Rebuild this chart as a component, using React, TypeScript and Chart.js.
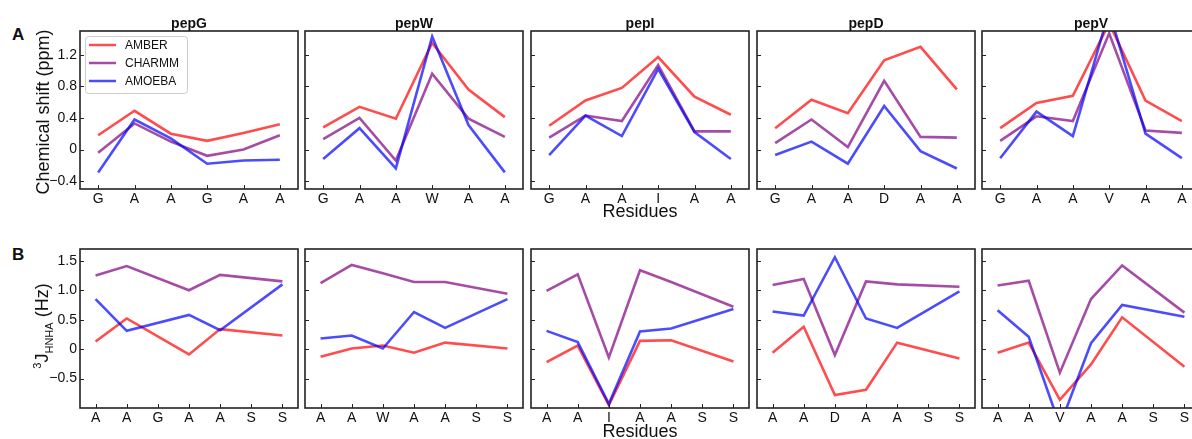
import React, { useEffect, useRef } from "react";
import { Chart, registerables } from "chart.js";

Chart.register(...registerables);

const FONT = "'Liberation Sans', Arial, Helvetica, sans-serif";
Chart.defaults.font.family = FONT;

// ---------- data ----------
const seriesNames = ["AMBER", "CHARMM", "AMOEBA"];
const seriesColors = ["rgba(255,0,0,0.7)", "rgba(128,0,128,0.7)", "rgba(0,0,255,0.7)"];
const peptides = ["pepG", "pepW", "pepI", "pepD", "pepV"];

// Panel A: chemical shift (ppm)
const csResiduesG = ["G", "A", "A", "G", "A", "A"];
const csResiduesW = ["G", "A", "A", "W", "A", "A"];
const csResiduesI = ["G", "A", "A", "I", "A", "A"];
const csResiduesD = ["G", "A", "A", "D", "A", "A"];
const csResiduesV = ["G", "A", "A", "V", "A", "A"];

const csAmberG = [0.18, 0.49, 0.2, 0.11, 0.21, 0.32];
const csCharmmG = [-0.04, 0.33, 0.1, -0.08, 0.0, 0.18];
const csAmoebaG = [-0.29, 0.38, 0.14, -0.18, -0.14, -0.13];

const csAmberW = [0.28, 0.54, 0.39, 1.35, 0.76, 0.41];
const csCharmmW = [0.13, 0.4, -0.14, 0.96, 0.39, 0.16];
const csAmoebaW = [-0.12, 0.27, -0.24, 1.43, 0.31, -0.29];

const csAmberI = [0.3, 0.62, 0.78, 1.17, 0.67, 0.44];
const csCharmmI = [0.15, 0.43, 0.36, 1.07, 0.23, 0.23];
const csAmoebaI = [-0.07, 0.43, 0.17, 1.02, 0.22, -0.12];

const csAmberD = [0.27, 0.63, 0.46, 1.13, 1.3, 0.76];
const csCharmmD = [0.08, 0.38, 0.03, 0.87, 0.16, 0.15];
const csAmoebaD = [-0.07, 0.1, -0.18, 0.55, -0.02, -0.24];

const csAmberV = [0.27, 0.59, 0.68, 1.6, 0.62, 0.36];
const csCharmmV = [0.11, 0.42, 0.36, 1.47, 0.24, 0.21];
const csAmoebaV = [-0.11, 0.48, 0.17, 1.75, 0.2, -0.11];

// Panel B: 3J HNHA (Hz)
const jResiduesG = ["A", "A", "G", "A", "A", "S", "S"];
const jResiduesW = ["A", "A", "W", "A", "A", "S", "S"];
const jResiduesI = ["A", "A", "I", "A", "A", "S", "S"];
const jResiduesD = ["A", "A", "D", "A", "A", "S", "S"];
const jResiduesV = ["A", "A", "V", "A", "A", "S", "S"];

const jAmberG = [0.13, 0.52, null, -0.09, 0.34, null, 0.23];
const jCharmmG = [1.25, 1.41, null, 1.0, 1.26, null, 1.15];
const jAmoebaG = [0.85, 0.31, null, 0.58, 0.32, null, 1.1];

const jAmberW = [-0.13, 0.01, 0.06, -0.06, 0.11, null, 0.01];
const jCharmmW = [1.12, 1.43, 1.29, 1.14, 1.14, null, 0.94];
const jAmoebaW = [0.18, 0.23, 0.01, 0.63, 0.36, null, 0.85];

const jAmberI = [-0.22, 0.06, -0.95, 0.14, 0.15, null, -0.21];
const jCharmmI = [0.99, 1.27, -0.14, 1.34, 1.14, null, 0.72];
const jAmoebaI = [0.31, 0.12, -0.93, 0.3, 0.35, null, 0.68];

const jAmberD = [-0.06, 0.38, -0.78, -0.69, 0.11, null, -0.16];
const jCharmmD = [1.09, 1.19, -0.1, 1.15, 1.1, null, 1.06];
const jAmoebaD = [0.64, 0.57, 1.56, 0.52, 0.36, null, 0.98];

const jAmberV = [-0.06, 0.11, -0.86, -0.26, 0.54, null, -0.3];
const jCharmmV = [1.08, 1.16, -0.4, 0.85, 1.42, null, 0.62];
const jAmoebaV = [0.66, 0.21, -1.3, 0.1, 0.75, null, 0.55];

const csTickValues = [-0.4, 0, 0.4, 0.8, 1.2];
const csTickLabels = ["\u22120.4", "0", "0.4", "0.8", "1.2"];
const jTickValues = [-0.5, 0, 0.5, 1.0, 1.5];
const jTickLabels = ["\u22120.5", "0", "0.5", "1.0", "1.5"];

const csMin = -0.5;
const csMax = 1.5;
const jMin = -1.0;
const jMax = 1.7;

const csRows = [
  { labels: csResiduesG, values: [csAmberG, csCharmmG, csAmoebaG] },
  { labels: csResiduesW, values: [csAmberW, csCharmmW, csAmoebaW] },
  { labels: csResiduesI, values: [csAmberI, csCharmmI, csAmoebaI] },
  { labels: csResiduesD, values: [csAmberD, csCharmmD, csAmoebaD] },
  { labels: csResiduesV, values: [csAmberV, csCharmmV, csAmoebaV] },
];
const jRows = [
  { labels: jResiduesG, values: [jAmberG, jCharmmG, jAmoebaG] },
  { labels: jResiduesW, values: [jAmberW, jCharmmW, jAmoebaW] },
  { labels: jResiduesI, values: [jAmberI, jCharmmI, jAmoebaI] },
  { labels: jResiduesD, values: [jAmberD, jCharmmD, jAmoebaD] },
  { labels: jResiduesV, values: [jAmberV, jCharmmV, jAmoebaV] },
];

// ---------- layout ----------
const PANEL_LEFTS = [80, 305, 531, 757, 982];
const PANEL_W = 218;
const ROW_A = { top: 31, h: 158 };
const ROW_B = { top: 249, h: 159 };
const AX_W = 45;
const AX_H = 30;
const PAD_T = 16;
const PAD_R = 3;

const framePlugin = {
  id: "frameTicks",
  afterDatasetsDraw(chart: any) {
    const { ctx, chartArea: a } = chart;
    const xs = chart.scales.x;
    const ys = chart.scales.y;
    ctx.save();
    ctx.strokeStyle = "#222";
    ctx.lineWidth = 1;
    ctx.beginPath();
    ys.ticks.forEach((t: any) => {
      const y = Math.round(ys.getPixelForValue(t.value)) + 0.5;
      ctx.moveTo(a.left, y);
      ctx.lineTo(a.left + 4, y);
    });
    xs.ticks.forEach((_t: any, i: number) => {
      const x = Math.round(xs.getPixelForValue(i)) + 0.5;
      ctx.moveTo(x, a.bottom);
      ctx.lineTo(x, a.bottom - 4);
    });
    ctx.stroke();
    ctx.lineWidth = 1.6;
    ctx.strokeStyle = "#222";
    ctx.strokeRect(a.left, a.top, a.right - a.left, a.bottom - a.top);
    ctx.restore();
  },
};

const legendPlugin = {
  id: "boxLegend",
  afterDraw(chart: any) {
    const { ctx, chartArea: a } = chart;
    const bx = a.left + 5;
    const by = a.top + 5;
    const bw = 102;
    const bh = 57;
    ctx.save();
    ctx.fillStyle = "rgba(255,255,255,0.85)";
    ctx.strokeStyle = "#cccccc";
    ctx.lineWidth = 1;
    ctx.beginPath();
    ctx.roundRect(bx + 0.5, by + 0.5, bw, bh, 3);
    ctx.fill();
    ctx.stroke();
    chart.data.datasets.forEach((ds: any, i: number) => {
      const y = by + 9 + i * 18;
      ctx.strokeStyle = ds.borderColor;
      ctx.lineWidth = 2.5;
      ctx.beginPath();
      ctx.moveTo(bx + 4, y);
      ctx.lineTo(bx + 31, y);
      ctx.stroke();
      ctx.fillStyle = "#111";
      ctx.font = `12px ${FONT}`;
      ctx.textBaseline = "middle";
      ctx.textAlign = "left";
      ctx.fillText(ds.label, bx + 40, y + 0.5);
    });
    ctx.restore();
  },
};

type PanelProps = {
  left: number;
  top: number;
  height: number;
  labels: string[];
  values: (number | null)[][];
  min: number;
  max: number;
  tickValues: number[];
  tickLabels: string[];
  showY: boolean;
  legend: boolean;
};

function Panel(p: PanelProps) {
  const ref = useRef<HTMLCanvasElement>(null);
  const W = AX_W + PANEL_W + PAD_R;
  const H = PAD_T + p.height + AX_H;
  useEffect(() => {
    if (!ref.current) return;
    const chart = new Chart(ref.current, {
      type: "line",
      data: {
        labels: p.labels,
        datasets: p.values.map((v, i) => ({
          label: seriesNames[i],
          data: v,
          borderColor: seriesColors[i],
          backgroundColor: seriesColors[i],
          borderWidth: 2.6,
          pointRadius: 0,
          pointHoverRadius: 0,
          fill: false,
          tension: 0,
          spanGaps: true,
          order: 3 - i,
        })),
      },
      options: {
        animation: false,
        responsive: false,
        events: [],
        layout: { padding: { left: 0, top: PAD_T, right: PAD_R, bottom: 0 } },
        plugins: {
          legend: { display: false },
          tooltip: { enabled: false },
          title: { display: false },
        },
        scales: {
          x: {
            type: "category",
            offset: true,
            grid: { display: false, drawTicks: false },
            border: { display: false },
            ticks: {
              font: { size: 14, family: FONT },
              color: "#111",
              padding: 2,
              maxRotation: 0,
              minRotation: 0,
              autoSkip: false,
            },
            afterFit: (s: any) => {
              s.height = AX_H;
            },
          },
          y: {
            type: "linear",
            min: p.min,
            max: p.max,
            grid: { display: false, drawTicks: false },
            border: { display: false },
            ticks: {
              display: p.showY,
              font: { size: 14, family: FONT },
              color: "#111",
              padding: 3,
              callback: (_v: any, idx: number) => p.tickLabels[idx],
            },
            afterBuildTicks: (s: any) => {
              s.ticks = p.tickValues.map((v) => ({ value: v }));
            },
            afterFit: (s: any) => {
              s.width = AX_W;
            },
          },
        },
      } as any,
      plugins: p.legend ? [framePlugin, legendPlugin] : [framePlugin],
    });
    return () => chart.destroy();
  }, []);
  return (
    <canvas
      ref={ref}
      width={W}
      height={H}
      style={{
        position: "absolute",
        left: p.left - AX_W,
        top: p.top - PAD_T,
        width: W,
        height: H,
      }}
    />
  );
}

const textBase: React.CSSProperties = {
  position: "absolute",
  fontFamily: FONT,
  color: "#111",
  whiteSpace: "nowrap",
  lineHeight: 1,
};

export default function App() {
  return (
    <div
      style={{
        position: "absolute",
        left: 0,
        top: 0,
        width: 1192,
        height: 439,
        overflow: "hidden",
        background: "#fff",
      }}
    >
      {csRows.map((r, i) => (
        <Panel
          key={"a" + i}
          left={PANEL_LEFTS[i]}
          top={ROW_A.top}
          height={ROW_A.h}
          labels={r.labels}
          values={r.values}
          min={csMin}
          max={csMax}
          tickValues={csTickValues}
          tickLabels={csTickLabels}
          showY={i === 0}
          legend={i === 0}
        />
      ))}
      {jRows.map((r, i) => (
        <Panel
          key={"b" + i}
          left={PANEL_LEFTS[i]}
          top={ROW_B.top}
          height={ROW_B.h}
          labels={r.labels}
          values={r.values}
          min={jMin}
          max={jMax}
          tickValues={jTickValues}
          tickLabels={jTickLabels}
          showY={i === 0}
          legend={false}
        />
      ))}
      {peptides.map((name, i) => (
        <div
          key={name}
          style={{
            ...textBase,
            fontSize: 14,
            fontWeight: "bold",
            left: PANEL_LEFTS[i] + PANEL_W / 2,
            top: 16,
            transform: "translateX(-50%)",
          }}
        >
          {name}
        </div>
      ))}
      <div style={{ ...textBase, fontSize: 17, fontWeight: "bold", left: 12, top: 26 }}>A</div>
      <div style={{ ...textBase, fontSize: 17, fontWeight: "bold", left: 12, top: 246 }}>B</div>
      <div
        style={{
          ...textBase,
          fontSize: 18,
          left: 43,
          top: 112,
          transform: "translate(-50%, -50%) rotate(-90deg)",
        }}
      >
        Chemical shift (ppm)
      </div>
      <div
        style={{
          ...textBase,
          fontSize: 18,
          lineHeight: "18px",
          left: 42,
          top: 326,
          transform: "translate(-50%, -50%) rotate(-90deg)",
        }}
      >
        <span style={{ fontSize: 11, verticalAlign: "super", lineHeight: 0 }}>3</span>
        J
        <span style={{ fontSize: 11, verticalAlign: "sub", lineHeight: 0 }}>HNHA</span>
        {" (Hz)"}
      </div>
      <div
        style={{
          ...textBase,
          fontSize: 18,
          left: PANEL_LEFTS[2] + PANEL_W / 2,
          top: 202,
          transform: "translateX(-50%)",
        }}
      >
        Residues
      </div>
      <div
        style={{
          ...textBase,
          fontSize: 18,
          left: PANEL_LEFTS[2] + PANEL_W / 2,
          top: 422,
          transform: "translateX(-50%)",
        }}
      >
        Residues
      </div>
    </div>
  );
}
